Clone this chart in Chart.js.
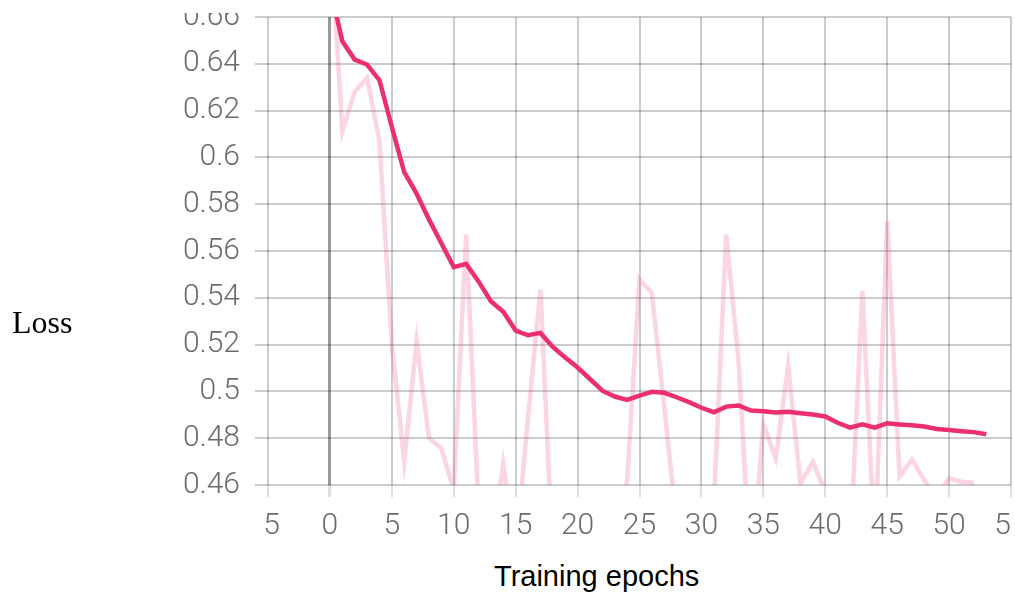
<!DOCTYPE html>
<html>
<head>
<meta charset="utf-8">
<script src="https://cdn.jsdelivr.net/npm/chart.js@4.4.0/dist/chart.umd.min.js"></script>
<style>
  html, body { margin: 0; padding: 0; background: #fff; overflow: hidden; }
  body { width: 1015px; height: 594px; position: relative; }
  #clip { position: absolute; left: 0; top: 13px; width: 1012px; height: 581px; overflow: hidden; }
  #graficaLoss { position: absolute; left: 0; top: -29px; }
  .axisTitle { position: absolute; color: #000; white-space: nowrap; }
  #yTitle { left: 12px; top: 304px; font: 32px "Liberation Serif", serif; }
  #xTitle { left: 494px; top: 560px; font: 29px "Liberation Sans", sans-serif; }
</style>
</head>
<body>
<div id="clip"><canvas id="graficaLoss" width="1040" height="571" style="width:1040px;height:571px"></canvas></div>
<div id="yTitle" class="axisTitle">Loss</div>
<div id="xTitle" class="axisTitle">Training epochs</div>
<script>
// valores
const epochs = [0, 1, 2, 3, 4, 5, 6, 7, 8, 9, 10, 11, 12, 13, 14, 15, 16, 17, 18, 19, 20,
  21, 22, 23, 24, 25, 26, 27, 28, 29, 30, 31, 32, 33, 34, 35, 36, 37, 38, 39, 40,
  41, 42, 43, 44, 45, 46, 47, 48, 49, 50, 51, 52, 53];

const smoothLoss = [0.673, 0.6496, 0.6418, 0.6397, 0.633, 0.613, 0.5937, 0.5845, 0.5735, 0.5633,
  0.5531, 0.5545, 0.547, 0.5385, 0.534, 0.526, 0.524, 0.525, 0.519, 0.5145,
  0.5102, 0.5053, 0.5003, 0.4978, 0.4964, 0.4982, 0.4998, 0.4994, 0.4975, 0.4954,
  0.493, 0.4911, 0.4935, 0.494, 0.4918, 0.4915, 0.491, 0.4913, 0.4907, 0.4901,
  0.4893, 0.4866, 0.4845, 0.4859, 0.4845, 0.4864, 0.4859, 0.4855, 0.485, 0.4839,
  0.4835, 0.483, 0.4826, 0.4817];

const rawLoss = [0.70, 0.611, 0.628, 0.634, 0.607, 0.52, 0.470, 0.5215, 0.48, 0.4756,
  0.458, 0.567, 0.450, 0.430, 0.469, 0.431, 0.489, 0.5435, 0.428, 0.42,
  0.42, 0.42, 0.43, 0.43, 0.462, 0.548, 0.542, 0.493, 0.444, 0.42,
  0.42, 0.451, 0.567, 0.513, 0.42, 0.486, 0.4713, 0.511, 0.4607, 0.4699,
  0.457, 0.43, 0.432, 0.543, 0.433, 0.5728, 0.4636, 0.4709, 0.462, 0.455,
  0.4628, 0.4614, 0.461];

const xTicks = [-5, 0, 5, 10, 15, 20, 25, 30, 35, 40, 45, 50, 55];
const xTickLabels = ['\u00a05', '0', '5', '10', '15', '20', '25', '30', '35', '40', '45', '50', '55'];
const yTicks = [0.46, 0.48, 0.5, 0.52, 0.54, 0.56, 0.58, 0.6, 0.62, 0.64, 0.66];
const yTickLabels = ['0.46', '0.48', '0.5', '0.52', '0.54', '0.56', '0.58', '0.6', '0.62', '0.64', '0.66'];

const lineColor = 'rgb(236, 47, 109)';
const rawColor = 'rgba(236, 47, 109, 0.2)';
const tickFont = { family: 'Roboto', weight: 300, size: 30 };

const ctx = document.getElementById('graficaLoss').getContext('2d');
new Chart(ctx, {
  type: 'line',
  data: {
    datasets: [{
      label: 'raw',
      data: rawLoss.map((v, i) => ({ x: epochs[i], y: v })),
      borderColor: rawColor,
      borderWidth: 4.5,
      pointRadius: 0,
      tension: 0
    }, {
      label: 'smoothed',
      data: smoothLoss.map((v, i) => ({ x: epochs[i], y: v })),
      borderColor: lineColor,
      borderWidth: 4.5,
      pointRadius: 0,
      tension: 0
    }]
  },
  options: {
    responsive: false,
    animation: false,
    layout: { padding: { left: 0, right: 29, top: 20, bottom: 0 } },
    plugins: { legend: { display: false }, tooltip: { enabled: false } },
    scales: {
      x: {
        type: 'linear',
        min: -5,
        max: 55,
        afterBuildTicks: s => { s.ticks = xTicks.map(v => ({ value: v })); },
        afterFit: s => { s.height = 70; },
        border: { display: false },
        grid: {
          color: c => c.tick && c.tick.value === 0 ? 'rgba(0,0,0,0.4)' : 'rgba(0,0,0,0.2)',
          lineWidth: c => c.tick && c.tick.value === 0 ? 3 : 2,
          tickColor: 'rgba(0,0,0,0.13)',
          tickLength: 12
        },
        ticks: {
          font: tickFont,
          color: '#6b6b6b',
          padding: 11,
          maxRotation: 0,
          autoSkip: false,
          callback: (v) => xTickLabels[xTicks.indexOf(v)]
        }
      },
      y: {
        min: 0.46,
        max: 0.66,
        afterBuildTicks: s => { s.ticks = yTicks.map(v => ({ value: v })); },
        afterFit: s => { s.width = 268; },
        border: { display: false },
        grid: {
          color: 'rgba(0,0,0,0.2)',
          lineWidth: 2,
          tickColor: 'rgba(0,0,0,0.2)',
          tickLength: 13
        },
        ticks: {
          font: tickFont,
          color: '#6b6b6b',
          padding: 15,
          autoSkip: false,
          callback: (v) => yTickLabels[yTicks.findIndex(t => Math.abs(t - v) < 1e-6)]
        }
      }
    }
  }
});
</script>
</body>
</html>
